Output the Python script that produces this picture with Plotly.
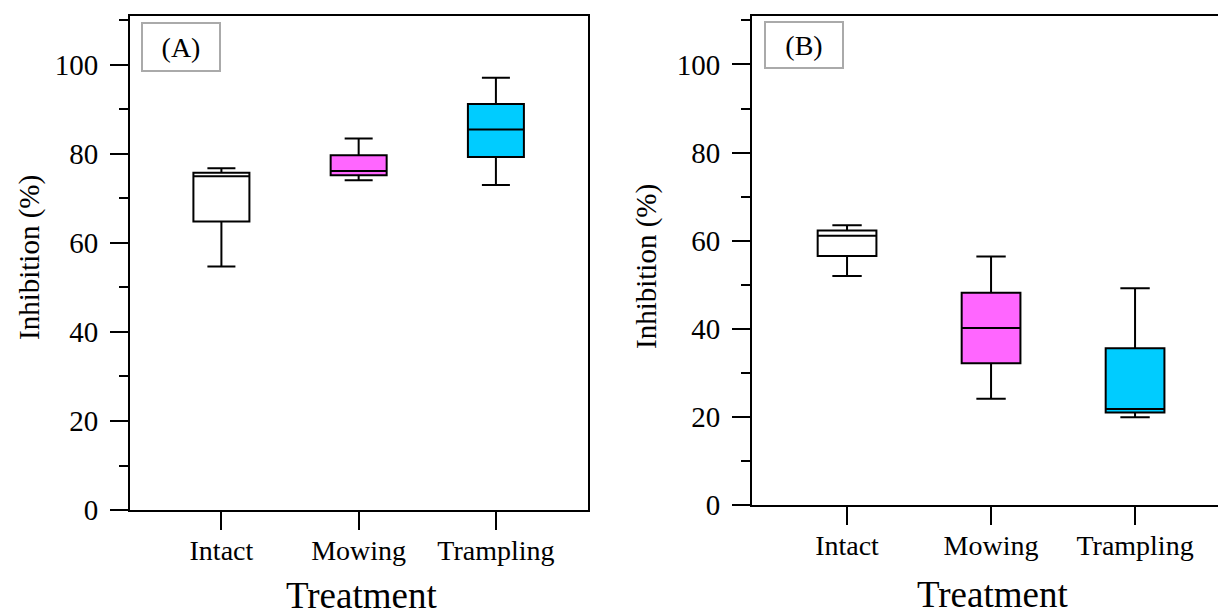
import plotly.graph_objects as go

categories = ["Intact", "Mowing", "Trampling"]
colors = ["#FFFFFF", "#FF66FF", "#00CCFF"]

# Panel A (box statistics, %)
a_lower = [54.7, 74.1, 73.0]
a_q1 = [64.8, 75.2, 79.3]
a_median = [75.0, 76.2, 85.5]
a_q3 = [75.8, 79.7, 91.2]
a_upper = [76.8, 83.5, 97.1]

# Panel B (box statistics, %)
b_lower = [52.0, 24.1, 19.9]
b_q1 = [56.5, 32.2, 21.0]
b_median = [61.1, 40.2, 21.8]
b_q3 = [62.3, 48.2, 35.6]
b_upper = [63.5, 56.4, 49.2]

y_ticks = [0, 20, 40, 60, 80, 100]
y_ticktext = ["0", "20", "40", "60", "80", "100"]

W, H = 1218, 615
FONT = "Liberation Serif"

fig = go.Figure()

def add_boxes(lower, q1, med, q3, upper, xa, ya):
    for i, c in enumerate(categories):
        fig.add_trace(go.Box(
            x=[c], q1=[q1[i]], median=[med[i]], q3=[q3[i]],
            lowerfence=[lower[i]], upperfence=[upper[i]],
            fillcolor=colors[i], line=dict(color="black", width=2),
            whiskerwidth=0.5, width=0.408, boxpoints=False,
            xaxis=xa, yaxis=ya, showlegend=False, hoverinfo="skip"))

add_boxes(a_lower, a_q1, a_median, a_q3, a_upper, "x", "y")
add_boxes(b_lower, b_q1, b_median, b_q3, b_upper, "x2", "y2")

def xax(domain, rng, mirror, anchor):
    return dict(domain=domain, range=rng, type="category", categoryorder="array",
                categoryarray=categories, showline=True, linecolor="black", linewidth=2,
                mirror=mirror, ticks="outside", ticklen=18, tickwidth=2, tickcolor="black",
                tickfont=dict(family=FONT, size=28, color="black"), showgrid=False,
                zeroline=False, anchor=anchor, ticklabelstandoff=-4, automargin=False)

def yax(domain, mirror, anchor):
    return dict(domain=domain, range=[0, 111], showline=True, linecolor="black", linewidth=2,
                mirror=mirror, ticks="outside", ticklen=18, tickwidth=2, tickcolor="black",
                tickmode="array", tickvals=y_ticks, ticktext=y_ticktext,
                tickfont=dict(family=FONT, size=29, color="black"),
                minor=dict(dtick=10, tick0=0, ticks="outside", ticklen=9, tickwidth=2,
                           tickcolor="black"),
                showgrid=False, zeroline=False, anchor=anchor, ticklabelstandoff=6,
                automargin=False)

fig.update_layout(
    width=W, height=H,
    margin=dict(l=0, r=0, t=0, b=0),
    font=dict(family=FONT, color="black"),
    paper_bgcolor="white", plot_bgcolor="white",
    boxmode="overlay",
    xaxis=xax([130 / W, 588 / W], [-0.666, 2.671], True, "y"),
    yaxis=yax([1 - 510 / H, 1 - 16 / H], True, "x"),
    xaxis2=xax([752 / W, 1.0], [-0.66, 2.576], True, "y2"),
    yaxis2=yax([1 - 505 / H, 1 - 16 / H], False, "x2"),
)

def ann(text, x, y, size, angle=0, **kw):
    fig.add_annotation(text=text, x=x / W, y=1 - y / H, xref="paper", yref="paper",
                       xanchor="center", yanchor="middle", showarrow=False,
                       textangle=angle, font=dict(family=FONT, size=size, color="black"), **kw)

ann("Inhibition (%)", 30, 258, 29, angle=-90)
ann("Inhibition (%)", 647, 267, 29, angle=-90)
ann("Treatment", 361, 595, 37)
ann("Treatment", 992, 594, 37)
ann("(A)", 181, 47, 28, bordercolor="#AAAAAA", borderwidth=2, borderpad=0,
    width=76, height=46, bgcolor="white")
ann("(B)", 804, 45.5, 28, bordercolor="#AAAAAA", borderwidth=2, borderpad=0,
    width=76, height=44, bgcolor="white")

fig.write_html("out.html")
